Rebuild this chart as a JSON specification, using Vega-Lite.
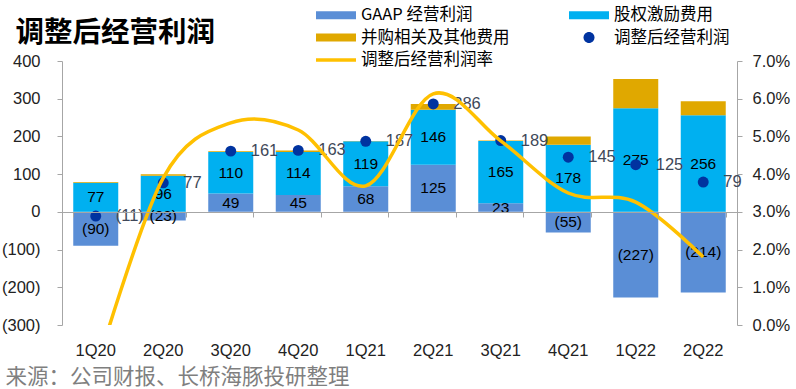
{
  "$schema": "https://vega.github.io/schema/vega-lite/v6.json",
  "width": 675,
  "height": 264,
  "autosize": {"type": "none"},
  "padding": {"left": 62, "top": 61, "right": 59, "bottom": 64},
  "background": "white",
  "title": {"text": "调整后经营利润", "anchor": "start", "dx": 14, "dy": 56, "offset": 14, "font": "Noto Sans CJK SC", "fontSize": 28.5, "fontWeight": "bold", "color": "#000000"},
  "config": {
    "view": {"stroke": null},
    "axis": {"labelFont": "Liberation Sans", "labelFontSize": 16.5, "labelColor": "#222222", "domainColor": "#A6A6A6", "tickColor": "#A6A6A6", "grid": false, "labelOverlap": false}
  },
  "data": {"values": [
    {"q": "1Q20", "gaap": -90, "sbc": 77, "ma": 2, "adj": -11, "margin": -0.012},
    {"q": "2Q20", "gaap": -23, "sbc": 96, "ma": 4, "adj": 77, "margin": 0.039},
    {"q": "3Q20", "gaap": 49, "sbc": 110, "ma": 2, "adj": 161, "margin": 0.0536},
    {"q": "4Q20", "gaap": 45, "sbc": 114, "ma": 4, "adj": 163, "margin": 0.0517},
    {"q": "1Q21", "gaap": 68, "sbc": 119, "ma": 1, "adj": 187, "margin": 0.0369},
    {"q": "2Q21", "gaap": 125, "sbc": 146, "ma": 15, "adj": 286, "margin": 0.0613},
    {"q": "3Q21", "gaap": 23, "sbc": 165, "ma": 1, "adj": 189, "margin": 0.0488},
    {"q": "4Q21", "gaap": -55, "sbc": 178, "ma": 22, "adj": 145, "margin": 0.035},
    {"q": "1Q22", "gaap": -227, "sbc": 275, "ma": 77, "adj": 125, "margin": 0.0326},
    {"q": "2Q22", "gaap": -214, "sbc": 256, "ma": 37, "adj": 79, "margin": 0.018}
  ]},
  "layer": [
    {
      "layer": [
        {
          "transform": [
            {"fold": ["gaap", "sbc", "ma"], "as": ["key", "value"]},
            {"calculate": "indexof(['gaap','sbc','ma'], datum.key)", "as": "ord"}
          ],
          "mark": {"type": "bar"},
          "encoding": {
            "x": {"field": "q", "type": "nominal", "sort": null, "title": "来源：公司财报、长桥海豚投研整理",
                  "scale": {"paddingInner": 0.3333, "paddingOuter": 0.16667},
                  "axis": {"domain": false, "ticks": false, "labelAngle": 0, "labelPadding": 17, "labelFontSize": 16.5,
                           "titleFont": "Noto Sans CJK SC", "titleFontSize": 21.5, "titleFontWeight": "normal", "titleColor": "#7F7F7F",
                           "titleAlign": "left", "titleAnchor": "start", "titleBaseline": "middle", "titleX": -57, "titleY": 52}},
            "y": {"field": "value", "type": "quantitative", "stack": "zero", "title": null,
                  "scale": {"domain": [-300, 400], "nice": false},
                  "axis": {"orient": "left", "values": [-300, -200, -100, 0, 100, 200, 300, 400], "labelOverlap": false, "labelExpr": "datum.value < 0 ? '(' + abs(datum.value) + ')' : datum.label", "tickSize": 5, "labelPadding": 17}},
            "order": {"field": "ord"},
            "color": {"field": "key", "type": "nominal",
                      "scale": {"domain": ["gaap", "sbc", "ma", "adj", "margin"], "range": ["#5A8ED6", "#00B0F0", "#E0A800", "#0033A0", "#FFC000"]},
                      "legend": {
                        "orient": "none", "legendX": 264, "legendY": -56, "columns": 2, "direction": "horizontal", "columnPadding": 59, "rowPadding": 3.5,
                        "title": null, "symbolSize": 400, "labelOffset": 15, "labelLimit": 300,
                        "labelFont": "Noto Sans CJK SC", "labelFontSize": 16.5, "labelColor": "#000000",
                        "labelExpr": "datum.value == 'gaap' ? 'GAAP 经营利润' : datum.value == 'sbc' ? '股权激励费用' : datum.value == 'ma' ? '并购相关及其他费用' : datum.value == 'adj' ? '调整后经营利润' : '调整后经营利润率'",
                        "encode": {"symbols": {"update": {
                          "shape": {"signal": "datum.value == 'adj' ? 'M-0.55,0A0.55,0.55,0,1,0,0.55,0A0.55,0.55,0,1,0,-0.55,0Z' : datum.value == 'margin' ? 'M-2,-0.17H2V0.17H-2Z' : 'M-2,-0.4H2V0.4H-2Z'"},
                          "fill": {"scale": "color", "field": "value"},
                          "stroke": {"value": "transparent"},
                          "strokeWidth": {"value": 0},
                          "opacity": {"value": 1},
                          "fillOpacity": {"value": 1}
                        }}}
                      }}
          }
        },
        {
          "transform": [
            {"fold": ["gaap", "sbc", "ma"], "as": ["key", "value"]},
            {"calculate": "indexof(['gaap','sbc','ma'], datum.key)", "as": "ord"},
            {"stack": "value", "groupby": ["q"], "sort": [{"field": "ord"}], "as": ["v0", "v1"]},
            {"filter": "datum.key != 'ma'"},
            {"calculate": "(datum.v0 + datum.v1) / 2", "as": "mid"},
            {"calculate": "datum.value < 0 ? '(' + abs(datum.value) + ')' : '' + datum.value", "as": "lbl"}
          ],
          "mark": {"type": "text", "font": "Liberation Sans", "fontSize": 15.5, "color": "#000000", "baseline": "middle", "align": "center"},
          "encoding": {
            "x": {"field": "q", "type": "nominal", "sort": null, "title": null,
                  "axis": {"orient": "bottom", "offset": -113, "domain": true, "ticks": true, "tickBand": "extent", "tickSize": 5, "labels": false, "zindex": 1}},
            "y": {"field": "mid", "type": "quantitative", "title": null,
                  "axis": {"orient": "left", "values": [-300, -200, -100, 0, 100, 200, 300, 400], "labelOverlap": false, "labelExpr": "datum.value < 0 ? '(' + abs(datum.value) + ')' : datum.label", "tickSize": 5, "labelPadding": 17}},
            "text": {"field": "lbl"}
          }
        },
        {
          "mark": {"type": "point", "filled": true, "size": 120, "opacity": 1},
          "encoding": {
            "x": {"field": "q", "type": "nominal", "sort": null, "axis": null},
            "y": {"field": "adj", "type": "quantitative", "title": null,
                  "axis": {"orient": "left", "values": [-300, -200, -100, 0, 100, 200, 300, 400], "labelOverlap": false, "labelExpr": "datum.value < 0 ? '(' + abs(datum.value) + ')' : datum.label", "tickSize": 5, "labelPadding": 17}},
            "color": {"datum": "adj"}
          }
        },
        {
          "transform": [
            {"calculate": "datum.adj < 0 ? '(' + abs(datum.adj) + ')' : '' + datum.adj", "as": "alb"}
          ],
          "mark": {"type": "text", "font": "Liberation Sans", "fontSize": 16.5, "color": "#404858", "baseline": "middle", "align": "left", "dx": 20},
          "encoding": {
            "x": {"field": "q", "type": "nominal", "sort": null, "axis": null},
            "y": {"field": "adj", "type": "quantitative", "title": null,
                  "axis": {"orient": "left", "values": [-300, -200, -100, 0, 100, 200, 300, 400], "labelOverlap": false, "labelExpr": "datum.value < 0 ? '(' + abs(datum.value) + ')' : datum.label", "tickSize": 5, "labelPadding": 17}},
            "text": {"field": "alb"}
          }
        }
      ],
      "resolve": {"axis": {"x": "independent"}}
    },
    {
      "mark": {"type": "line", "interpolate": "cardinal", "tension": 0, "strokeWidth": 3.5, "clip": true},
      "encoding": {
        "x": {"field": "q", "type": "nominal", "sort": null, "axis": null},
        "y": {"field": "margin", "type": "quantitative", "title": null,
              "scale": {"domain": [0, 0.07], "nice": false},
              "axis": {"orient": "right", "values": [0, 0.01, 0.02, 0.03, 0.04, 0.05, 0.06, 0.07], "format": ".1%", "tickSize": 5, "labelPadding": 10}},
        "color": {"datum": "margin"}
      }
    }
  ],
  "resolve": {"scale": {"y": "independent"}}
}
